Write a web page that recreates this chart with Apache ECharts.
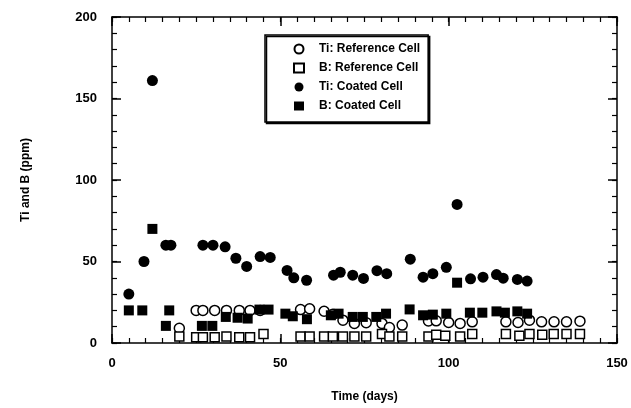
<!DOCTYPE html>
<html>
<head>
<meta charset="utf-8">
<script src="https://cdn.jsdelivr.net/npm/echarts@6/dist/echarts.min.js"></script>
<style>
  html, body { margin: 0; padding: 0; background: #fff; }
  #chart { width: 631px; height: 408px; }
</style>
</head>
<body>
<div id="chart"></div>
<script>
// [day, ppm] pairs
const tiReference = [
  [20, 9], [25, 20], [27, 20], [30.5, 20], [34, 20], [37.8, 20], [41, 20], [44, 20],
  [56, 20.5], [58.7, 21], [63, 19.5], [65.6, 17.6], [68.6, 14], [72, 12], [75.5, 12.5],
  [80.2, 12], [82.4, 9.5], [86.2, 11], [94, 13.5], [96.3, 13.6], [100, 12.6], [103.4, 12],
  [107, 13], [117, 13], [120.6, 12.6], [124, 14], [127.6, 13], [131.3, 13], [135, 13], [139, 13.4]
];
const bReference = [
  [20, 4], [25, 3.5], [27, 3.5], [30.5, 3.5], [34, 4], [37.8, 3.5], [41, 3.5], [45, 5.5],
  [56, 4], [58.7, 4], [63, 4], [65.6, 4], [68.6, 4], [72, 4], [75.5, 4], [80.2, 5.5],
  [82.4, 4], [86.2, 4], [94, 4], [96.3, 5], [99, 4.5], [103.4, 4], [107, 5.5], [117, 5.5],
  [121, 4.5], [124, 5.5], [127.8, 5], [131.2, 5.5], [135, 5.5], [139, 5.5]
];
const tiCoated = [
  [5, 30], [9.5, 50], [12, 161], [16, 60], [17.5, 60], [27, 60], [30, 60], [33.6, 59],
  [36.8, 52], [40, 47], [44, 53], [47, 52.5], [52, 44.5], [54, 40], [57.8, 38.5],
  [65.8, 41.6], [67.8, 43.4], [71.5, 41.6], [74.7, 39.6], [78.7, 44.4], [81.6, 42.5],
  [88.6, 51.4], [92.4, 40.4], [95.3, 42.5], [99.3, 46.4], [102.5, 85], [106.5, 39.4],
  [110.2, 40.4], [114.2, 42], [116.2, 39.8], [120.4, 39], [123.3, 38]
];
const bCoated = [
  [5, 20], [9, 20], [12, 70], [16, 10.5], [17, 20], [26.7, 10.5], [29.8, 10.5],
  [33.8, 16], [37.3, 15.5], [40.3, 15], [43.8, 20.5], [46.5, 20.5], [51.5, 18], [53.7, 16.4],
  [57.9, 14.6], [65, 17], [67.3, 18], [71.5, 16], [74.5, 16], [78.5, 16], [81.4, 18],
  [88.4, 20.6], [92.4, 17], [95.3, 17.4], [99.3, 18], [102.5, 37], [106.3, 18.6],
  [110, 18.6], [114.2, 19.4], [116.7, 18.6], [120.4, 19.4], [123.3, 18]
];
const seriesNames = ['Ti: Reference Cell', 'B: Reference Cell', 'Ti: Coated Cell', 'B: Coated Cell'];

const font = 'Liberation Sans, Arial, sans-serif';

// main axes: line, labels and long ticks every 50
const makeAxis = (max, extra) => Object.assign({
  type: 'value', min: 0, max: max, interval: 50,
  axisLine: { show: true, onZero: false, lineStyle: { color: '#000', width: 1.5 } },
  axisTick: { show: true, inside: true, length: 9, lineStyle: { color: '#000', width: 1.5 } },
  splitLine: { show: false }
}, extra);
// tick-only axes for the short ticks (5 days / 10 ppm)
const makeTickAxis = (max, step, position) => ({
  type: 'value', min: 0, max: max, interval: step, position: position,
  axisLine: { show: false, onZero: false },
  axisTick: { show: true, inside: true, length: 5, lineStyle: { color: '#000', width: 1.2 } },
  axisLabel: { show: false },
  splitLine: { show: false }
});
const labelStyle = () => ({ fontFamily: font, fontSize: 13, fontWeight: 'bold', color: '#000' });
const nameStyle = () => ({ fontFamily: font, fontSize: 12, fontWeight: 'bold', color: '#000' });

const openStyle = () => ({ color: '#fff', borderColor: '#000', borderWidth: 1.5, opacity: 1 });
const fillStyle = () => ({ color: '#000', opacity: 1 });

const chart = echarts.init(document.getElementById('chart'));
chart.setOption({
  animation: false,
  backgroundColor: '#fff',
  textStyle: { fontFamily: font },
  grid: { left: 112, right: 14, top: 17, bottom: 58 },
  legend: {
    data: seriesNames,
    orient: 'vertical',
    left: 265,
    top: 35,
    padding: [8, 8, 10, 28],
    itemWidth: 10,
    itemHeight: 9,
    itemGap: 7,
    backgroundColor: '#fff',
    borderColor: '#000',
    borderWidth: 1.5,
    shadowColor: '#000',
    shadowOffsetX: 1.5,
    shadowOffsetY: 1.5,
    shadowBlur: 0,
    textStyle: { fontFamily: font, fontSize: 12, fontWeight: 'bold', color: '#000', padding: [0, 0, 0, 10] }
  },
  xAxis: [
    makeAxis(150, {
      position: 'bottom', name: 'Time (days)', nameLocation: 'middle', nameGap: 48,
      nameTextStyle: nameStyle(), axisLabel: Object.assign({ margin: 14 }, labelStyle())
    }),
    makeAxis(150, { position: 'top', axisLabel: { show: false } }),
    makeTickAxis(150, 5, 'bottom'),
    makeTickAxis(150, 5, 'top')
  ],
  yAxis: [
    makeAxis(200, {
      position: 'left', name: 'Ti and B (ppm)', nameLocation: 'middle', nameGap: 80,
      nameTextStyle: nameStyle(), axisLabel: Object.assign({ margin: 15 }, labelStyle())
    }),
    makeAxis(200, { position: 'right', axisLabel: { show: false } }),
    makeTickAxis(200, 10, 'left'),
    makeTickAxis(200, 10, 'right')
  ],
  series: [
    { name: seriesNames[0], type: 'scatter', symbolSize: 10, data: tiReference, itemStyle: openStyle() },
    { name: seriesNames[1], type: 'scatter', symbol: 'rect', symbolSize: 9, data: bReference, itemStyle: openStyle() },
    { name: seriesNames[2], type: 'scatter', symbolSize: 11, data: tiCoated, itemStyle: fillStyle() },
    { name: seriesNames[3], type: 'scatter', symbol: 'rect', symbolSize: 10, data: bCoated, itemStyle: fillStyle() }
  ]
});
</script>
</body>
</html>
